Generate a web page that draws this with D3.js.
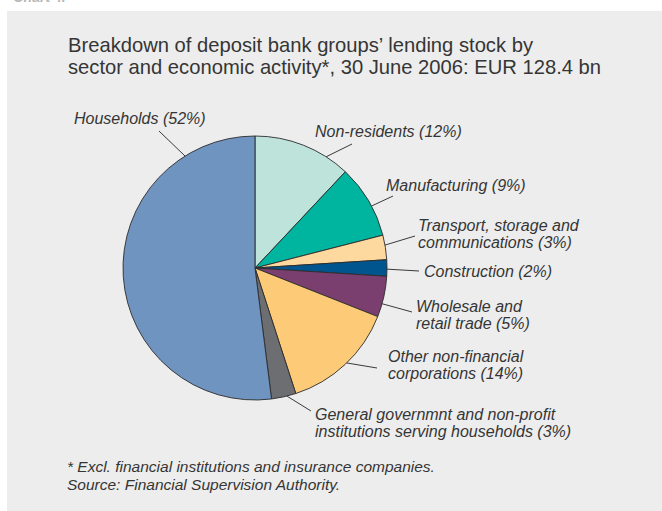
<!DOCTYPE html>
<html>
<head>
<meta charset="utf-8">
<script src="https://cdn.jsdelivr.net/npm/d3@7"></script>
<style>
  html, body { margin: 0; padding: 0; background: #ffffff; }
  svg { display: block; font-family: "Liberation Sans", Arial, sans-serif; }
</style>
</head>
<body>
<svg id="chart" width="662" height="511"></svg>
<script>
// Lending stock shares by sector, clockwise from 12 o'clock
const categories = [
  "Non-residents",
  "Manufacturing",
  "Transport, storage and communications",
  "Construction",
  "Wholesale and retail trade",
  "Other non-financial corporations",
  "General governmnt and non-profit institutions serving households",
  "Households"
];
const shares = [12, 9, 3, 2, 5, 14, 3, 52];
const sliceColors = ["#bde3da", "#00b59f", "#fdd99f", "#00558f", "#7b3f6f", "#fdca77", "#6d6e71", "#6f94c0"];

// Label text lines for each slice
const labelLines = [
  ["Non-residents (12%)"],
  ["Manufacturing (9%)"],
  ["Transport, storage and", "communications (3%)"],
  ["Construction (2%)"],
  ["Wholesale and", "retail trade (5%)"],
  ["Other non-financial", "corporations (14%)"],
  ["General governmnt and non-profit", "institutions serving households (3%)"],
  ["Households (52%)"]
];

const titleLines = [
  "Breakdown of deposit bank groups\u2019 lending stock by",
  "sector and economic activity*, 30 June 2006: EUR 128.4 bn"
];
const noteLines = [
  "* Excl. financial institutions and insurance companies.",
  "Source: Financial Supervision Authority."
];

// Layout: label anchor, leader start (near text), leader angle on the rim (degrees clockwise from top)
const labelLayout = [
  { x: 315, y: 137, lx: 352, ly: 144, deg: 32.6 },
  { x: 386, y: 191, lx: 393, ly: 196, deg: 62 },
  { x: 418, y: 231, lx: 415, ly: 236, deg: 80 },
  { x: 424, y: 277, lx: 419, ly: 271, deg: 90.5 },
  { x: 416, y: 312, lx: 412, ly: 312, deg: 105.7 },
  { x: 388, y: 362, lx: 377, ly: 368, deg: 136 },
  { x: 315, y: 420, lx: 311, ly: 411, deg: 166 },
  { x: 74,  y: 124, lx: 159, ly: 131, deg: 328 }
];

const svg = d3.select("#chart");
const W = 662, H = 511;
const textColor = "#353535";

// Page band and grey panel
svg.append("rect").attr("x", 0).attr("y", 0).attr("width", W).attr("height", H).attr("fill", "#ffffff");
svg.append("text").attr("x", 13).attr("y", 2).attr("font-size", 14).attr("font-weight", "bold")
  .attr("fill", "#b8b8b8").text("Chart 4.");
svg.append("rect").attr("x", 7).attr("y", 11).attr("width", W - 7).attr("height", H - 11).attr("fill", "#ededed");

// Title
svg.append("g").selectAll("text").data(titleLines).join("text")
  .attr("x", 68).attr("y", (d, i) => 52 + i * 22)
  .attr("font-size", 20.2).attr("fill", textColor)
  .text(d => d);

// Pie
const cx = 255, cy = 268, R = 132;
const pie = d3.pie().sort(null).value(d => d).startAngle(0).endAngle(2 * Math.PI);
const arc = d3.arc().innerRadius(0).outerRadius(R);
const g = svg.append("g").attr("transform", `translate(${cx},${cy})`);

g.selectAll("path").data(pie(shares)).join("path")
  .attr("d", arc)
  .attr("fill", (d, i) => sliceColors[i])
  .attr("stroke", "#2b2b2b")
  .attr("stroke-width", 0.9)
  .attr("stroke-linejoin", "round");

// Leader lines
const rim = deg => {
  const a = deg * Math.PI / 180;
  return [cx + R * Math.sin(a), cy - R * Math.cos(a)];
};
svg.append("g").selectAll("line").data(labelLayout).join("line")
  .attr("x1", d => d.lx).attr("y1", d => d.ly)
  .attr("x2", d => rim(d.deg)[0]).attr("y2", d => rim(d.deg)[1])
  .attr("stroke", "#3a3a3a").attr("stroke-width", 1);

// Slice labels
const labels = svg.append("g").selectAll("text").data(labelLayout).join("text")
  .attr("x", d => d.x).attr("y", d => d.y)
  .attr("font-size", 16).attr("font-style", "italic").attr("fill", textColor);
labels.each(function(d, i) {
  d3.select(this).selectAll("tspan").data(labelLines[i]).join("tspan")
    .attr("x", d.x).attr("dy", (t, j) => j === 0 ? 0 : 17)
    .text(t => t);
});

// Notes
svg.append("g").selectAll("text").data(noteLines).join("text")
  .attr("x", 67).attr("y", (d, i) => 472 + i * 18)
  .attr("font-size", 15.5).attr("font-style", "italic").attr("fill", textColor)
  .text(d => d);
</script>
</body>
</html>
